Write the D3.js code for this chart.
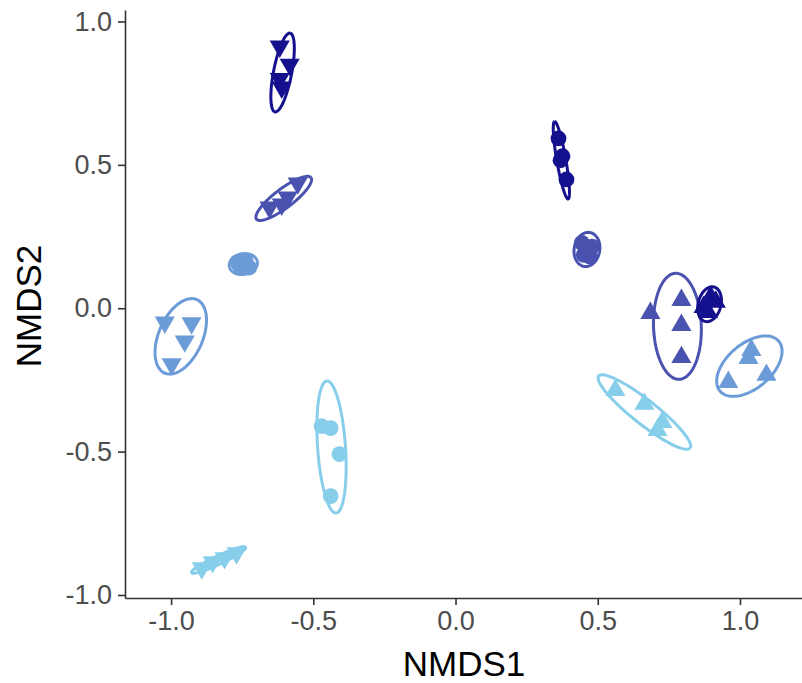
<!DOCTYPE html>
<html>
<head>
<meta charset="utf-8">
<script src="https://cdn.jsdelivr.net/npm/d3@7"></script>
<style>
  html, body { margin: 0; padding: 0; background: #fff; }
  svg { display: block; }
  text { font-family: "Liberation Sans", Arial, sans-serif; }
</style>
</head>
<body>
<script>
// ---- data ----
const groupNames  = ["G1","G2","G3","G4","G5","G6","G7","G8","G9","G10","G11","G12"];
const groupColor  = ["#15108e","#4a52b0","#6c9cd8","#6c9cd8","#87ceeb","#87ceeb","#15108e","#4a52b0","#4a52b0","#15108e","#6c9cd8","#87ceeb"];
const groupShape  = ["down","down","circle","down","circle","down","circle","circle","up","up","up","up"];
const pointX = [
  [-0.618,-0.583,-0.618,-0.611],
  [-0.555,-0.590,-0.654,-0.611],
  [-0.768,-0.738,-0.725,-0.758],
  [-1.022,-0.928,-0.952,-0.998],
  [-0.471,-0.439,-0.408,-0.439],
  [-0.892,-0.854,-0.812,-0.770],
  [0.362,0.376,0.369,0.390],
  [0.444,0.480,0.451,0.473],
  [0.685,0.794,0.794,0.794],
  [0.872,0.897,0.915,0.888],
  [1.040,1.030,1.093,0.959],
  [0.562,0.664,0.727,0.710]
];
const pointY = [
  [0.913,0.850,0.800,0.770],
  [0.436,0.387,0.352,0.362],
  [0.160,0.166,0.142,0.146],
  [-0.049,-0.052,-0.115,-0.195],
  [-0.411,-0.418,-0.509,-0.655],
  [-0.906,-0.885,-0.871,-0.854],
  [0.592,0.530,0.516,0.449],
  [0.228,0.215,0.186,0.180],
  [-0.017,0.028,-0.059,-0.171],
  [0.004,0.040,0.022,-0.014],
  [-0.146,-0.174,-0.233,-0.258],
  [-0.286,-0.334,-0.397,-0.425]
];
// ellipse parameters (data units): centre, semi-axes, rotation (degrees)
const ellCX    = [-0.608,-0.604,-0.746,-0.966,-0.436,-0.833,0.372,0.462,0.780,0.893,1.033,0.664];
const ellCY    = [0.822,0.383,0.154,-0.098,-0.484,-0.878,0.516,0.205,-0.063,0.014,-0.202,-0.362];
const ellA     = [0.140,0.120,0.050,0.140,0.231,0.105,0.137,0.060,0.185,0.062,0.135,0.204];
const ellB     = [0.032,0.033,0.036,0.077,0.049,0.015,0.016,0.045,0.084,0.040,0.078,0.042];
const ellAngle = [79,37,10,66,94,25,100,80,92,75,40,-38];

const xTicks = [-1.0,-0.5,0.0,0.5,1.0];
const yTicks = [-1.0,-0.5,0.0,0.5,1.0];
const xTitle = "NMDS1", yTitle = "NMDS2";

// ---- drawing ----
const W = 802, H = 683;
const svg = d3.select("body").append("svg").attr("width", W).attr("height", H);

const x = d3.scaleLinear().domain([-1.162, 1.218]).range([125, 802]);
const y = d3.scaleLinear().domain([-1.0105, 1.04]).range([598, 10]);

// ellipses
const line = d3.line().x(d => x(d[0])).y(d => y(d[1]));
groupNames.forEach((g, i) => {
  const phi = ellAngle[i] * Math.PI / 180;
  const pts = d3.range(0, 101).map(k => {
    const t = k / 100 * 2 * Math.PI;
    const ca = ellA[i] * Math.cos(t), sb = ellB[i] * Math.sin(t);
    return [ellCX[i] + ca * Math.cos(phi) - sb * Math.sin(phi),
            ellCY[i] + ca * Math.sin(phi) + sb * Math.cos(phi)];
  });
  svg.append("path").attr("d", line(pts))
    .attr("fill", "none").attr("stroke", groupColor[i]).attr("stroke-width", 3);
});

// points
const symCircle = d3.symbol().type(d3.symbolCircle).size(195)();
const symTri = d3.symbol().type(d3.symbolTriangle).size(175)();
groupNames.forEach((g, i) => {
  pointX[i].forEach((px, j) => {
    const py = pointY[i][j];
    const shape = groupShape[i];
    let d = shape === "circle" ? symCircle : symTri;
    let rot = shape === "down" ? " rotate(180)" : "";
    svg.append("path").attr("d", d)
      .attr("transform", `translate(${x(px)},${y(py)})${rot}`)
      .attr("fill", groupColor[i]);
  });
});

// axes
const axisCol = "#333333";
const xAxis = svg.append("g").attr("transform", "translate(0,598)")
  .call(d3.axisBottom(x).tickValues(xTicks).tickFormat(d3.format(".1f")).tickSizeInner(7).tickSizeOuter(0).tickPadding(6));
const yAxis = svg.append("g").attr("transform", "translate(125,0)")
  .call(d3.axisLeft(y).tickValues(yTicks).tickFormat(d3.format(".1f")).tickSizeInner(7).tickSizeOuter(0).tickPadding(6));
[xAxis, yAxis].forEach(a => {
  a.select(".domain").attr("stroke", axisCol).attr("stroke-width", 1.6);
  a.selectAll(".tick line").attr("stroke", axisCol).attr("stroke-width", 1.6);
  a.selectAll(".tick text").attr("fill", "#4d4d4d").style("font-size", "27px")
    .style("font-family", '"Liberation Sans", Arial, sans-serif');
});
xAxis.selectAll(".tick text").text(d => d3.format(".1f")(d).replace("−", "-"));
yAxis.selectAll(".tick text").text(d => d3.format(".1f")(d).replace("−", "-"));

svg.append("text").attr("x", 464).attr("y", 676).attr("text-anchor", "middle")
  .style("font-size", "35px").attr("fill", "#000").text(xTitle);
svg.append("text").attr("transform", "translate(41,306) rotate(-90)").attr("text-anchor", "middle")
  .style("font-size", "35px").attr("fill", "#000").text(yTitle);
</script>
</body>
</html>
